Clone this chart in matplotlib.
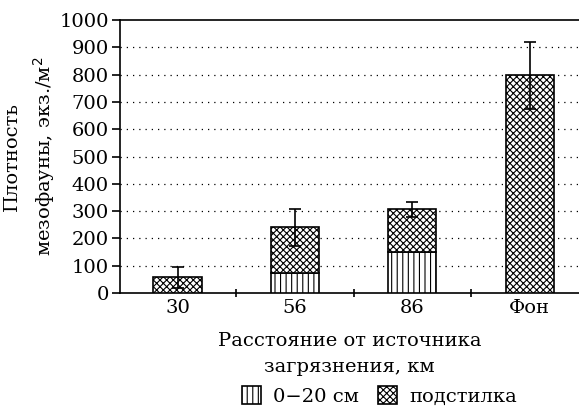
import numpy as np
import matplotlib.pyplot as plt

categories = ['30', '56', '86', 'Фон']
soil = [0, 72, 151, 0]          # 0-20 см
litter = [58, 168, 156, 797]    # подстилка
err = [38, 68, 28, 124]

plt.rcParams['font.family'] = ['DejaVu Serif']
plt.rcParams['hatch.linewidth'] = 0.8

fig = plt.figure(figsize=(5.79, 4.19), dpi=100)
ax = fig.add_axes([120 / 579, 1 - 293 / 419, 1 - 120 / 579, 273 / 419])

x = np.arange(len(categories))
soil = np.array(soil)
litter = np.array(litter)
total = soil + litter

ax.bar(x, soil, width=0.41, color='white', edgecolor='black', hatch='|||',
       linewidth=1.2, label='0−20 см', zorder=3)
ax.bar(x, litter, bottom=soil, width=0.41, color='white', edgecolor='black',
       hatch='xxxxx', linewidth=1.2, label='подстилка', zorder=3)
ax.errorbar(x, total, yerr=err, fmt='none', ecolor='black', elinewidth=1.2,
            capsize=4.5, capthick=1.2, zorder=4)

ax.set_xlim(-0.49, 3.42)
ax.set_ylim(0, 1000)
ax.set_yticks(range(0, 1001, 100))
ax.set_xticks(x)
ax.set_xticklabels(categories)
ax.set_xticks(x[:-1] + 0.5, minor=True)
ax.tick_params(axis='x', which='major', length=0, labelsize=14, pad=4)
ax.tick_params(axis='x', which='minor', length=6, width=1.2, direction='inout')
ax.tick_params(axis='y', labelsize=14, length=6, width=1.2, pad=2)

for v in range(100, 1000, 100):
    ax.axhline(v, color='black', linestyle=(0, (1, 4)), linewidth=0.9, zorder=1)

ax.spines['right'].set_visible(False)
for s in ['left', 'top', 'bottom']:
    ax.spines[s].set_linewidth(1.2)

ax.set_ylabel('Плотность\nмезофауны, экз./м$^2$', fontsize=14, labelpad=2,
              linespacing=1.5)
ax.set_xlabel('Расстояние от источника\nзагрязнения, км', fontsize=14,
              labelpad=11, linespacing=1.6)

fig.legend(loc='lower center', bbox_to_anchor=(0.655, -0.01), ncol=2, frameon=False,
           fontsize=14, handlelength=1, handleheight=1, handletextpad=0.6,
           columnspacing=1.0)

fig.savefig('out.png', dpi=100)
